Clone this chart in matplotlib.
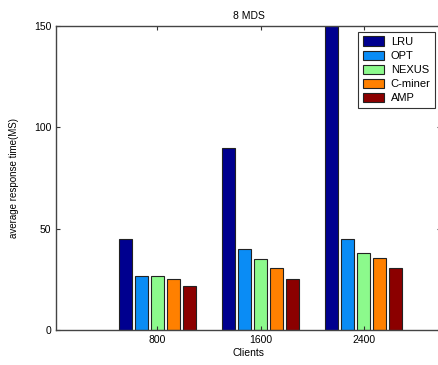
import numpy as np
import matplotlib.pyplot as plt

plt.rcParams['font.family'] = ['Liberation Sans', 'DejaVu Sans']

clients = ['800', '1600', '2400']
methods = ['LRU', 'OPT', 'NEXUS', 'C-miner', 'AMP']
colors = ['#00008F', '#0A8CF5', '#8CFA8C', '#FF8000', '#8B0000']
lru = [45, 90, 160]
opt = [26.7, 40, 45]
nexus = [26.7, 35.1, 38]
cminer = [25.2, 30.6, 35.6]
amp = [21.8, 25.2, 30.6]
series = [lru, opt, nexus, cminer, amp]

fig = plt.figure(figsize=(4.39, 3.65), dpi=100)
ax = fig.add_axes([0.128, 0.096, 0.877, 0.833])

x = np.arange(1, len(clients) + 1)
step = 0.155
w = 0.13
for i, (vals, name, c) in enumerate(zip(series, methods, colors)):
    ax.bar(x + (i - 2) * step, vals, w, color=c, edgecolor='#222222', linewidth=0.8, label=name)

ax.set_xlim(0.02, 3.75)
ax.set_ylim(0, 150)
ax.set_xticks(x)
ax.set_xticklabels(clients)
ax.set_yticks([0, 50, 100, 150])
ax.tick_params(direction='in', top=True, right=True, length=3, labelsize=7.5, color='#333333')
for s in ax.spines.values():
    s.set_color('#444444')
    s.set_linewidth(1.0)

ax.set_title('8 MDS', fontsize=7.5, pad=5)
ax.set_xlabel('Clients', fontsize=7.5, labelpad=2)
ax.set_ylabel('average response time(MS)', fontsize=7, labelpad=11)

leg = ax.legend(loc='upper right', bbox_to_anchor=(0.984, 0.98), borderaxespad=0, fontsize=8,
                fancybox=False, edgecolor='#333333', framealpha=1, handlelength=1.9,
                handleheight=0.9, borderpad=0.4, labelspacing=0.33, handletextpad=0.6)
leg.get_frame().set_linewidth(0.8)

fig.savefig('out.png', dpi=100)
